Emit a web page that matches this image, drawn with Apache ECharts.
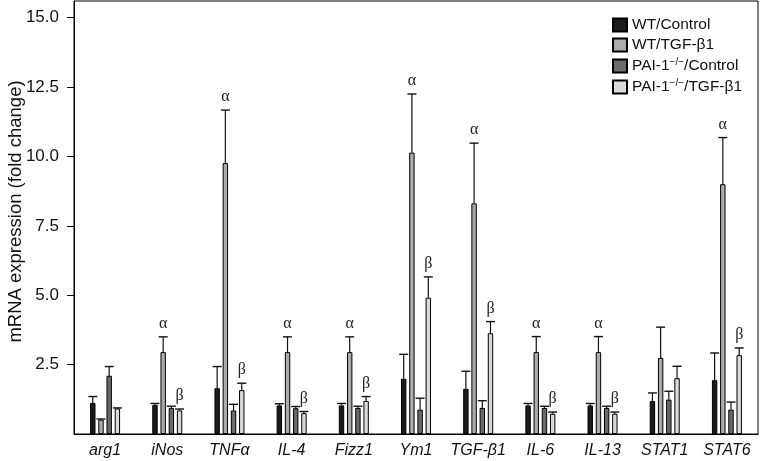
<!DOCTYPE html>
<html>
<head>
<meta charset="utf-8">
<script src="https://cdn.jsdelivr.net/npm/echarts@6/dist/echarts.min.js"></script>
<style>
html,body{margin:0;padding:0;background:#fff;}
#chart{width:762px;height:461px;}
</style>
</head>
<body>
<div id="chart"></div>
<script>
const categories = ['arg1','iNos','TNFα','IL-4','Fizz1','Ym1','TGF-β1','IL-6','IL-13','STAT1','STAT6'];
const seriesNames = ['WT/Control','WT/TGF-β1','PAI-1−/−/Control','PAI-1−/−/TGF-β1'];

const wtControl     = [1.12, 1.05, 1.65, 1.03, 1.03, 1.99, 1.63, 1.03, 1.03, 1.19, 1.94];
const wtControlErr  = [1.35, 1.10, 2.43, 1.09, 1.10, 2.87, 2.26, 1.10, 1.10, 1.48, 2.92];
const wtTgf         = [0.52, 2.95, 9.76, 2.95, 2.95, 10.14, 8.31, 2.95, 2.95, 2.74, 9.00];
const wtTgfErr      = [0.54, 3.50, 11.67, 3.50, 3.50, 12.25, 10.48, 3.51, 3.51, 3.85, 10.68];
const paiControl    = [2.10, 0.94, 0.85, 0.93, 0.94, 0.88, 0.94, 0.94, 0.94, 1.24, 0.88];
const paiControlErr = [2.43, 1.00, 1.07, 0.99, 1.00, 1.29, 1.20, 1.00, 1.00, 1.54, 1.15];
const paiTgf        = [0.92, 0.85, 1.58, 0.75, 1.19, 4.91, 3.63, 0.73, 0.73, 2.01, 2.84];
const paiTgfErr     = [0.94, 0.90, 1.83, 0.81, 1.35, 5.66, 4.05, 0.79, 0.79, 2.44, 3.10];

const alphaMarks = ['', 'α', 'α', 'α', 'α', 'α', 'α', 'α', 'α', '', 'α'];
const betaMarks  = ['', 'β', 'β', 'β', 'β', 'β', 'β', 'β', 'β', '', 'β'];
const yTicks = [2.5, 5, 7.5, 10, 12.5, 15];

const values = [wtControl, wtTgf, paiControl, paiTgf];
const errs = [wtControlErr, wtTgfErr, paiControlErr, paiTgfErr];
const marks = [null, alphaMarks, null, betaMarks];
const colors = ['#1b1b1b', '#ababab', '#6a6a6a', '#dadada'];

const FONT = "'Liberation Sans', Arial, Helvetica, sans-serif";
const BAR_W = 5.4, PITCH = 8.2;

const series = [];
seriesNames.forEach((name, k) => {
  series.push({
    name: name,
    type: 'bar',
    barWidth: BAR_W,
    barGap: ((PITCH - BAR_W) / BAR_W * 100) + '%',
    itemStyle: { color: colors[k], borderColor: '#000', borderWidth: 1 },
    data: values[k],
    z: 2
  });
});
seriesNames.forEach((name, k) => {
  const data = categories.map((c, i) => [i, errs[k][i], values[k][i], marks[k] ? marks[k][i] : '']);
  series.push({
    type: 'custom',
    name: name + ' err',
    data: data,
    encode: { x: 0, y: [1, 2] },
    z: 3,
    silent: true,
    renderItem: function (params, api) {
      const i = api.value(0);
      const top = api.coord([i, api.value(1)]);
      const base = api.coord([i, api.value(2)]);
      const x = top[0] + (-1.5 * PITCH + k * PITCH);
      const children = [
        { type: 'line', shape: { x1: x, y1: base[1], x2: x, y2: top[1] }, style: { stroke: '#111', lineWidth: 1.2 } },
        { type: 'line', shape: { x1: x - 4.5, y1: top[1], x2: x + 4.5, y2: top[1] }, style: { stroke: '#111', lineWidth: 1.4 } }
      ];
      const m = data[params.dataIndex][3];
      if (m) {
        children.push({
          type: 'text',
          style: { text: m, x: x, y: top[1] - 13, align: 'center', verticalAlign: 'middle',
                   font: "16px 'Liberation Serif', 'DejaVu Serif', serif", fill: '#222' }
        });
      }
      return { type: 'group', children: children };
    }
  });
});

const chart = echarts.init(document.getElementById('chart'), null, { renderer: 'canvas' });
chart.setOption({
  animation: false,
  backgroundColor: '#fff',
  grid: { left: 74, right: 4, top: 1, bottom: 27, show: true, borderColor: '#000', borderWidth: 1,
          containLabel: false, outerBoundsMode: 'none' },
  legend: {
    data: seriesNames,
    orient: 'vertical',
    left: 612,
    top: 17,
    padding: 0,
    icon: 'rect',
    itemWidth: 14,
    itemHeight: 13,
    itemGap: 4,
    align: 'left',
    selectedMode: false,
    formatter: function (name) {
      if (name.indexOf('PAI-1') === 0) {
        return '{n|PAI-1}{s|−/−}{n|' + name.slice(8) + '}';
      }
      return '{n|' + name + '}';
    },
    textStyle: {
      fontFamily: FONT, fontSize: 15.5, color: '#111',
      rich: {
        n: { fontFamily: FONT, fontSize: 15.5, lineHeight: 18, color: '#111' },
        s: { fontFamily: FONT, fontSize: 10, lineHeight: 10, verticalAlign: 'top', color: '#111' }
      }
    }
  },
  xAxis: {
    type: 'category',
    data: categories,
    axisLine: { lineStyle: { color: '#000', width: 1 } },
    axisTick: { show: false },
    axisLabel: { fontFamily: FONT, fontStyle: 'italic', fontSize: 16, color: '#111', margin: 9, interval: 0 }
  },
  yAxis: {
    type: 'value',
    min: 0,
    max: 15.6,
    interval: 2.5,
    name: 'mRNA expression (fold change)',
    nameLocation: 'middle',
    nameGap: 49,
    nameMoveOverlap: false,
    nameTextStyle: { fontFamily: FONT, fontSize: 18.5, color: '#111', padding: [0, 0, 0, 12] },
    splitLine: { show: false },
    axisLine: { show: true, lineStyle: { color: '#000', width: 1 } },
    axisTick: { show: true, length: 7, customValues: yTicks, lineStyle: { color: '#000' } },
    axisLabel: { fontFamily: FONT, fontSize: 17, color: '#111', margin: 15, customValues: yTicks,
                 formatter: v => v.toFixed(1) }
  },
  series: series
});
</script>
</body>
</html>
